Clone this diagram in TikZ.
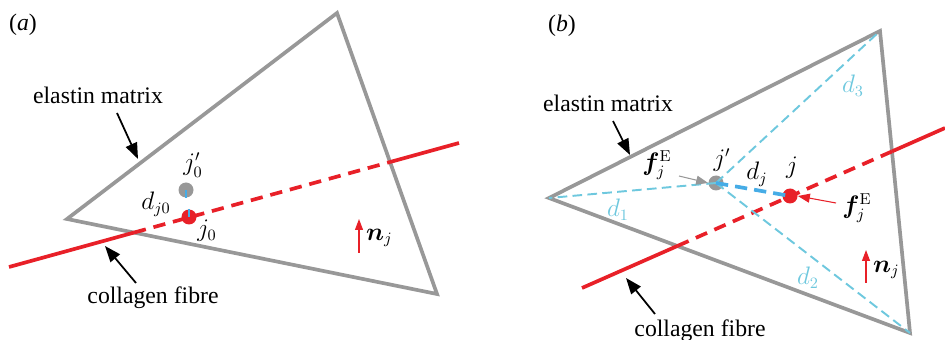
\documentclass[tikz,border=0pt]{standalone}
\usepackage{bm}
\usepackage[no-math]{fontspec}
\setmainfont{Liberation Serif}
\usepackage{tikz}
\usetikzlibrary{arrows.meta,calc,positioning}
\definecolor{elgray}{RGB}{152,152,152}
\definecolor{fbred}{RGB}{232,32,40}
\definecolor{dcyan}{RGB}{110,200,222}
\definecolor{dblue}{RGB}{70,172,230}
\tikzset{
  tri/.style={draw=elgray,line width=2.1pt,line join=miter},
  fib/.style={draw=fbred,line width=2.1pt},
  fibd/.style={fib,dash pattern=on 7pt off 4.5pt},
  dst/.style={draw=dcyan,line width=1.1pt,dash pattern=on 5.5pt off 3pt},
  dstb/.style={draw=dblue,line width=2.1pt,dash pattern=on 7pt off 4pt},
  dlk/.style={draw=dblue,line width=1.6pt},
  gdot/.style={circle,fill=elgray,minimum size=.3cm,inner sep=0pt},
  rdot/.style={circle,fill=fbred,minimum size=.3cm,inner sep=0pt},
  lb/.style={font=\fontsize{13.5}{15}\selectfont,inner sep=1pt},
  lbc/.style={lb,text=dcyan},
  ptr/.style={-{Triangle[length=3.2mm,width=2.4mm]},line width=1pt,draw=black},
  nrm/.style={-{Triangle[length=2.2mm,width=1.6mm]},line width=.7pt,draw=fbred},
  frc/.style={-{Triangle[length=2.4mm,width=1.8mm]},line width=.6pt},
}

\begin{document}
\begin{tikzpicture}[x=0.02cm,y=-0.02cm]
\useasboundingbox (0,0) rectangle (945,340);
% (a) the fibre node j0 and its partner j0' in the elastin element
\node[lb] (alab) at (23,25) {(\textit{a})};
\coordinate (aL) at (67,219);
\coordinate (aT) at (337,13);
\coordinate (aR) at (437,294);
\draw[tri] (aL) -- (aT) -- (aR) -- cycle;
\coordinate (aF1) at (9,267);
\coordinate (aF2) at (459,143);
\coordinate (aX1) at (intersection of aF1--aF2 and aL--aR);
\coordinate (aX2) at (intersection of aF1--aF2 and aT--aR);
\draw[fib] (aF1) -- (aX1);
\draw[fibd] (aX1) -- (aX2);
\draw[fib] (aX2) -- (aF2);
\node[gdot] (ajp) at (186,190) {};
\node[rdot] (aj) at (189,217) {};
\draw[dlk] (ajp.center) -- (ajp.south);
\draw[dlk] (aj.north) -- (aj.center);
\node[lb] (ajpl) at (193,165) {$j_0'$};
\node[lb] (adl) at (156,204) {$d_{j0}$};
\node[lb] (ajl) at (207,231) {$j_0$};
% normal of the fibre
\coordinate (an0) at (359,253);
\coordinate (an1) at (359,219);
\draw[nrm] (an0) -- (an1);
\node[lb,anchor=west] (anl) at (364,238) {$\bm{n}_j$};
% what is what
\node[lb] (aem) at (98,95) {elastin matrix};
\coordinate (aem0) at (117,113);
\coordinate (aem1) at (138,159);
\draw[ptr] (aem0) -- (aem1);
\node[lb] (acf) at (153,298) {collagen fibre};
\coordinate (acf0) at (136,283);
\coordinate (acf1) at (105,246);
\draw[ptr] (acf0) -- (acf1);

% (b) j' is tied to the three corners; d_j links it to j
\node[lb] (blab) at (562,26) {(\textit{b})};
\coordinate (bL) at (549,198);
\coordinate (bT) at (880,31);
\coordinate (bR) at (910,333);
\draw[tri] (bL) -- (bT) -- (bR) -- cycle;
\coordinate (bF1) at (582,288);
\coordinate (bF2) at (945,128);
\coordinate (bX1) at (intersection of bF1--bF2 and bL--bR);
\coordinate (bX2) at (intersection of bF1--bF2 and bT--bR);
\draw[fib] (bF1) -- (bX1);
\draw[fibd] (bX1) -- (bX2);
\draw[fib] (bX2) -- (bF2);
\node[gdot] (bjp) at (716,183) {};
\node[rdot] (bj) at (790,196) {};
\foreach \v in {bL,bT,bR}
  \draw[dst] (bjp.center) -- (\v);
\draw[dstb] (bjp.center) -- (bj.center);
\node[lbc] (bd1) at (618,210) {$d_1$};
\node[lbc] (bd2) at (808,278) {$d_2$};
\node[lbc] (bd3) at (853,86) {$d_3$};
\node[lb] (bjpl) at (722,160) {$j'$};
\node[lb] (bdl) at (757,174) {$d_j$};
\node[lb] (bjl) at (792,168) {$j$};
% forces on the two nodes
\node[lb] (bfl) at (657,165) {$\bm{f}_j^{\mathrm{E}}$};
\coordinate (bfl0) at (679,176);
\draw[frc,draw=elgray] (bfl0) -- (bjp.west);
\node[lb] (bfr) at (857,208) {$\bm{f}_j^{\mathrm{E}}$};
\coordinate (bfr0) at (836,203);
\draw[frc,draw=fbred] (bfr0) -- (bj.east);
\coordinate (bn0) at (866,283);
\coordinate (bn1) at (866,250);
\draw[nrm] (bn0) -- (bn1);
\node[lb,anchor=west] (bnl) at (871,270) {$\bm{n}_j$};
\node[lb] (bem) at (608,103) {elastin matrix};
\coordinate (bem0) at (613,121);
\coordinate (bem1) at (630,155);
\draw[ptr] (bem0) -- (bem1);
\node[lb] (bcf) at (700,331) {collagen fibre};
\coordinate (bcf0) at (655,314);
\coordinate (bcf1) at (626,278);
\draw[ptr] (bcf0) -- (bcf1);
\end{tikzpicture}
\end{document}
